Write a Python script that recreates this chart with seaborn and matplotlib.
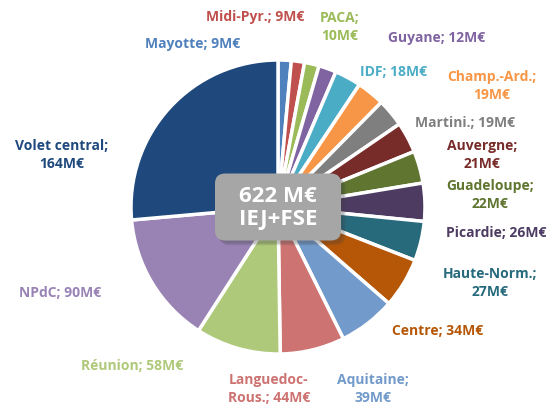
import matplotlib
matplotlib.use('Agg')
import matplotlib.pyplot as plt
from matplotlib.patches import FancyBboxPatch
import seaborn as sns

# data, clockwise from 12 o'clock
regions = ['Mayotte', 'Midi-Pyr.', 'PACA', 'Guyane', 'IDF', 'Champ.-Ard.',
           'Martini.', 'Auvergne', 'Guadeloupe', 'Picardie', 'Haute-Norm.',
           'Centre', 'Aquitaine', 'Languedoc-\nRous.', 'Réunion', 'NPdC',
           'Volet central']
amounts = [9, 9, 10, 12, 18, 19, 19, 21, 22, 26, 27, 34, 39, 44, 58, 90, 164]
colors = ['#4F81BD', '#C0504D', '#9BBB59', '#8064A2', '#4BACC6', '#F79646',
          '#7F7F7F', '#772C2A', '#5F7530', '#4D3B62', '#276A7C', '#B65708',
          '#729ACA', '#CD7371', '#AFC97A', '#9983B5', '#1F497D']
# label text as in the chart (some broken over two lines)
label_fmt = ['{}; {}M€', '{}; {}M€', '{};\n{}M€', '{}; {}M€', '{}; {}M€',
             '{};\n{}M€', '{}; {}M€', '{};\n{}M€', '{};\n{}M€', '{}; {}M€',
             '{};\n{}M€', '{}; {}M€', '{};\n{}M€', '{}; {}M€', '{}; {}M€',
             '{}; {}M€', '{};\n{}M€']
# label centres in pixels (from top-left)
label_px = [(193, 44), (255, 17), (340, 27), (437, 38), (394, 72),
            (492, 86), (465, 123), (482, 155), (490, 195), (496, 233),
            (490, 283), (438, 331), (373, 389), (269, 389), (132, 366),
            (60, 293), (62, 155)]

sns.set_theme(style='white')
plt.rcParams['font.family'] = ['Open Sans', 'DejaVu Sans']

W, H = 555, 410
cx, cy, R = 278, 208, 147

fig = plt.figure(figsize=(W / 100, H / 100), dpi=100)
ax = fig.add_axes([0, 0, 1, 1])
ax.pie(amounts, colors=colors, startangle=90, counterclock=False,
       radius=1, wedgeprops=dict(edgecolor='white', linewidth=2.5))
ax.set_xlim(-cx / R, (W - cx) / R)
ax.set_ylim(-(H - cy) / R, cy / R)
ax.set_aspect('equal')
ax.axis('off')

for name, val, fmt, col, (px, py) in zip(regions, amounts, label_fmt, colors, label_px):
    ax.text((px - cx) / R, (cy - py) / R, fmt.format(name, val), color=col,
            fontsize=10, fontweight='bold', ha='center', va='center',
            linespacing=1.35)

# centre box (126x67 px) with a soft shadow
bw, bh, rr = 126 / R, 67 / R, 10 / R
for off, a in [(5, 0.10), (4, 0.12), (3, 0.15)]:
    ax.add_patch(FancyBboxPatch((-bw / 2 + rr + off / R, -bh / 2 + rr - off / R),
                                bw - 2 * rr, bh - 2 * rr,
                                boxstyle=f'round,pad={rr}', facecolor='#404040',
                                edgecolor='none', alpha=a, zorder=3))
ax.add_patch(FancyBboxPatch((-bw / 2 + rr, -bh / 2 + rr), bw - 2 * rr, bh - 2 * rr,
                            boxstyle=f'round,pad={rr}', facecolor='#A6A6A6',
                            edgecolor='none', zorder=4))
ax.text(0, 0, '622 M€\nIEJ+FSE', fontsize=16, fontweight='bold',
        color='white', ha='center', va='center', linespacing=1.15, zorder=5)

fig.savefig('out.png', dpi=100)
